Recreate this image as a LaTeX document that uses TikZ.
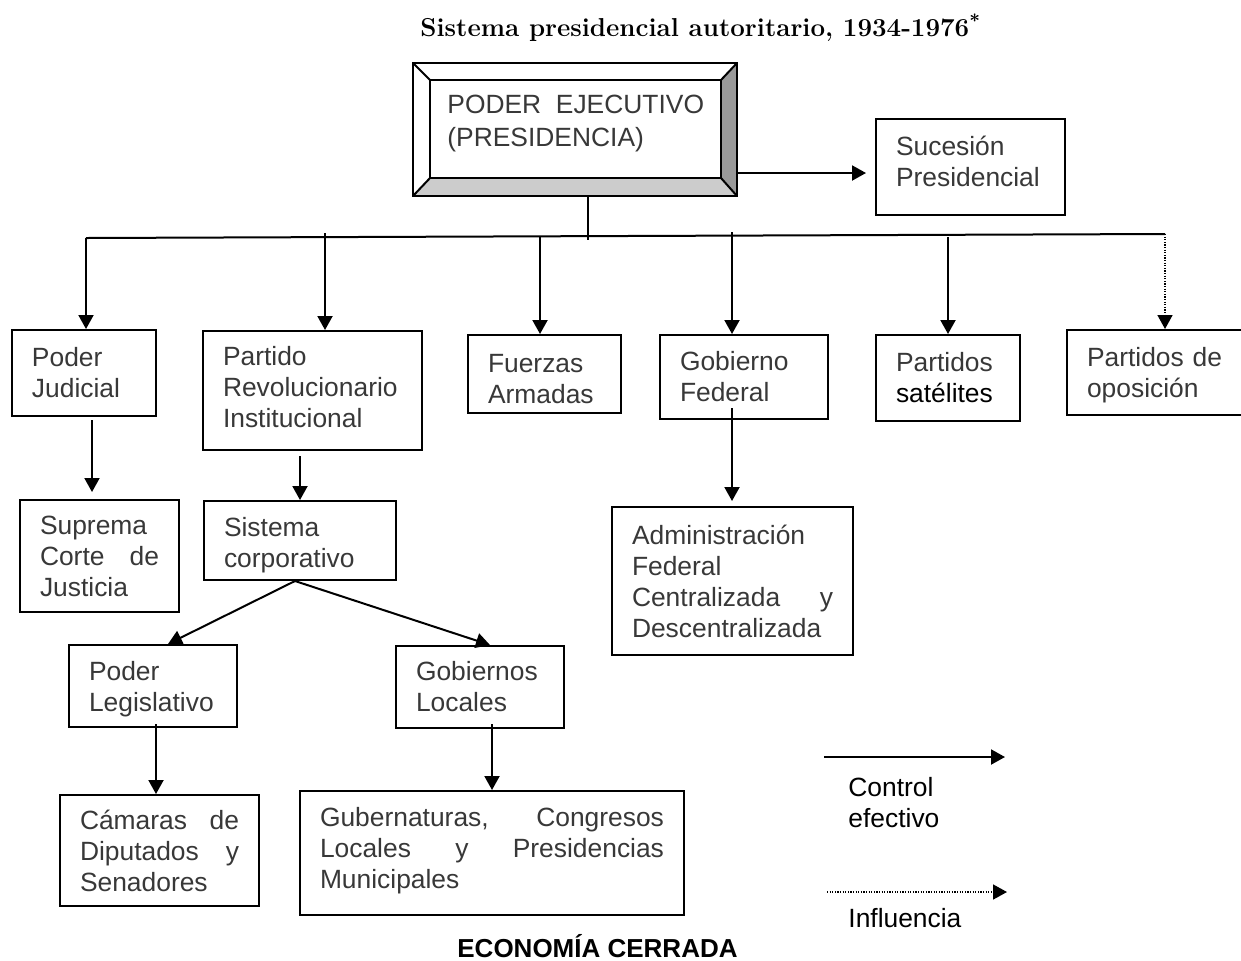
\documentclass[tikz,border=0pt]{standalone}
\usepackage{fontspec}
\newfontfamily\arialfont{Liberation Sans}
\usetikzlibrary{arrows.meta,calc}
\definecolor{txtgray}{rgb}{0.22,0.22,0.22}
\definecolor{bevdark}{gray}{0.6}
\definecolor{bevlight}{gray}{0.8}
\newcommand\boxfont{\arialfont\fontsize{13.2}{15.5}\selectfont}
% a line stretched to the full text width (justified line)
\newcommand\jl[1]{\leavevmode\hbox to \hsize{#1}}
% extra space below the last line: moves the text up inside its box
\newcommand\textshift[1]{\par\kern#1\relax}

\begin{document}
\begin{tikzpicture}[x=0.5pt,y=-0.5pt,
  bx/.style={draw, line width=1pt, inner xsep=10pt, inner ysep=0pt,
             align=left, text=txtgray, font=\boxfont},
  tsh/.style={execute at end node={\textshift{#1}}},
  arr/.style={line width=1pt, -{Triangle[length=7pt,width=7.5pt]}},
  infl/.style={line width=0.8pt, dash pattern=on 0.6pt off 0.7pt,
               -{Triangle[length=7pt,width=7.5pt]}},
  link/.style={line width=1pt},
  ]
\useasboundingbox (0,0) rectangle (1241,960);

% title
\node[anchor=base west, inner sep=0pt, font=\bfseries\fontsize{12.95}{15}\selectfont]
  (title) at (420,36) {Sistema presidencial autoritario, 1934-1976\textsuperscript{*}};

% executive: bevelled box
\node[minimum width=162pt, minimum height=66.5pt, inner sep=0pt, outer sep=0pt] (pe) at (575,129.5) {};
\coordinate (pi1) at ($(pe.north west)+(17,17)$);
\coordinate (pi2) at ($(pe.north east)+(-16,17)$);
\coordinate (pi3) at ($(pe.south east)+(-16,-18)$);
\coordinate (pi4) at ($(pe.south west)+(17,-18)$);
\fill[bevdark] (pe.north east) -- (pe.south east) -- (pi3) -- (pi2) -- cycle;
\fill[bevlight] (pe.south west) -- (pe.south east) -- (pi3) -- (pi4) -- cycle;
\draw[link] (pe.north west) rectangle (pe.south east);
\draw[link] (pi1) rectangle (pi3);
\draw[link] (pe.north west) -- (pi1) (pe.north east) -- (pi2)
            (pe.south east) -- (pi3) (pe.south west) -- (pi4);
\node[anchor=north west, inner sep=0pt, align=left, text=txtgray,
      font=\arialfont\fontsize{13.2}{16.5}\selectfont]
  (pet) at (447,95) {PODER~ EJECUTIVO\\(PRESIDENCIA)};

\node[bx, tsh=6pt, text width=74.5pt, minimum height=48pt] (suc) at (970.5,167) {Sucesión\\Presidencial};

% first level
\node[bx, text width=52pt, minimum height=43pt] (pj) at (84,373) {Poder\\Judicial};
\node[bx, tsh=3pt, text width=89.5pt, minimum height=59.5pt] (pri) at (312.5,390.5) {Partido\\Revolucionario\\Institucional};
\node[bx, tsh=-5pt, text width=56.5pt, minimum height=39pt] (fa) at (544.5,374) {Fuerzas\\Armadas};
\node[bx, text width=64pt, minimum height=42pt] (gf) at (744,377) {Gobierno\\Federal};
\node[bx, text width=52pt, minimum height=43pt] (ps) at (948,378) {Partidos\\{\color{black}satélites}};
\node[bx, tsh=-3pt, text width=71pt, minimum height=42.5pt] (po) at (1158,372.5) {Partidos de\\oposición};

% second level
\node[bx, text width=59.5pt, minimum height=56pt] (sc) at (99.5,556) {Suprema\\\jl{Corte\hfill de}\\Justicia};
\node[bx, tsh=-5pt, text width=76pt, minimum height=39.5pt] (sis) at (300,540.5) {Sistema\\corporativo};
\node[bx, text width=100.5pt, minimum height=74pt] (adm) at (732.5,581)
  {Administración\\Federal\\\jl{Centralizada\hfill y}\\Descentralizada};

% third level
\node[bx, tsh=-3.5pt, text width=64pt, minimum height=41pt] (pl) at (153,686) {Poder\\Legislativo};
\node[bx, text width=64pt, minimum height=41pt] (gl) at (480,687) {Gobiernos\\Locales};

% fourth level
\node[bx, text width=79.5pt, minimum height=55.5pt] (cam) at (159.5,850.5)
  {\jl{Cámaras\hfill de}\\\jl{Diputados\hfill y}\\Senadores};
\node[bx, tsh=2pt, text width=172pt, minimum height=62pt] (gub) at (492,853)
  {\jl{Gubernaturas,\hfill Congresos}\\\jl{Locales\hfill y\hfill Presidencias}\\Municipales};

% executive connectors
\coordinate (p1) at ($(pe.south east)+(0,-23)$);
\draw[arr, shorten >=4.5pt] (p1) -- (p1 -| suc.west);
\coordinate (tl) at (86,238);
\coordinate (tr) at (1165,234);
\draw[link] ($(pe.south)+(13,0)$) -- ++(0,44);
\draw[link] (tl) -- (tr);
\coordinate (b2) at (325,233);
\coordinate (b3) at (540,237);
\coordinate (b4) at (732,232);
\coordinate (b5) at (948,237);
\draw[arr] (tl) -- (tl |- pj.north);
\draw[arr] (b2) -- (b2 |- pri.north);
\draw[arr] (b3) -- (b3 |- fa.north);
\draw[arr] (b4) -- (b4 |- gf.north);
\draw[arr] (b5) -- (ps.north);
\draw[infl] (tr) -- (tr |- po.north);

% lower connectors
\coordinate (j1) at ($(pj.south)+(8,3)$);
\draw[arr, shorten >=3.5pt] (j1) -- (j1 |- sc.north);
\coordinate (r1) at ($(pri.south)+(-12.5,5)$);
\draw[arr] (r1) -- (sis.north);
\coordinate (s1) at ($(sis.south)+(-5,0)$);
\draw[arr] (s1) -- ($(pl.north)+(15,0)$);
\draw[arr] (s1) -- ($(gl.north)+(10,0)$);
\coordinate (g1) at ($(gf.south)+(-12,-12)$);
\draw[arr, shorten >=2.5pt] (g1) -- (g1 |- adm.north);
\coordinate (l1) at ($(pl.south)+(3,-4)$);
\draw[arr] (l1) -- (l1 |- cam.north);
\coordinate (k1) at ($(gl.south)+(12,-5)$);
\draw[arr] (k1) -- (gub.north);

% legend
\coordinate (la) at (824,757);
\coordinate (lb) at (1005,757);
\coordinate (lc) at (827,892);
\coordinate (ld) at (1007,892);
\draw[arr] (la) -- (lb);
\draw[infl] (lc) -- (ld);
\node[anchor=north west, inner sep=0pt, align=left, font=\boxfont] (lt1) at (848,777) {Control\\efectivo};
\node[anchor=north west, inner sep=0pt, font=\boxfont] (lt2) at (848,908) {Influencia};

% footer
\node[anchor=base, inner sep=0pt, font=\arialfont\bfseries\fontsize{13}{15}\selectfont]
  (eco) at (597.5,957) {ECONOMÍA CERRADA};
\end{tikzpicture}
\end{document}
